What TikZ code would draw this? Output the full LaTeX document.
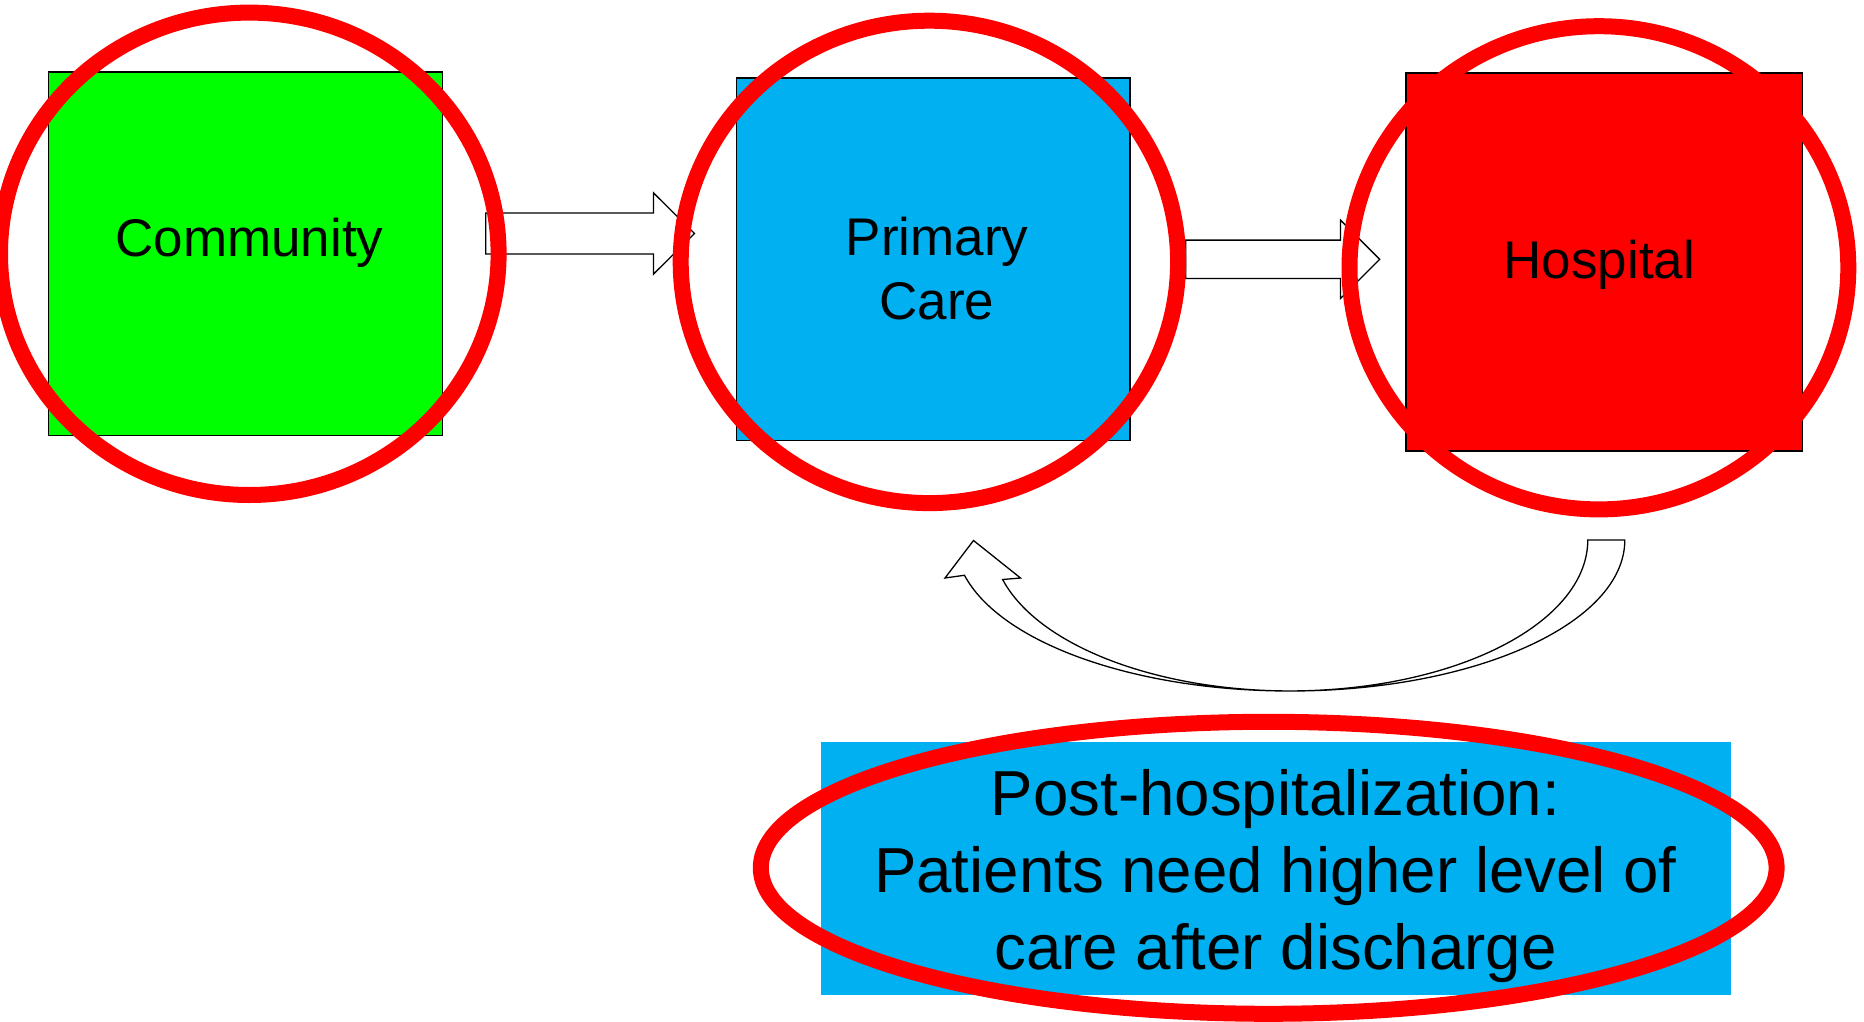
\documentclass[tikz,border=0pt]{standalone}
\usepackage{fontspec}
\setmainfont{Liberation Sans}
\usetikzlibrary{shapes.geometric}

\definecolor{commgreen}{RGB}{0,255,0}
\definecolor{careblue}{RGB}{0,176,240}
\definecolor{hospred}{RGB}{255,0,0}

\begin{document}
\begin{tikzpicture}
   [x=1pt,y=-1pt,
    box/.style={draw=black, line width=1.2pt, inner sep=0pt},
    ring/.style={draw=hospred, line width=16pt, ellipse, inner sep=0pt},
    hollow/.style={draw=black, line width=1.3pt, fill=white},
    lbl/.style={font=\fontsize{53}{64.3}\selectfont, inner sep=0pt, align=center}]
   \useasboundingbox (0,0) rectangle (1864,1022);
   % the three care settings
   \node[box, fill=commgreen, minimum width=393.5pt, minimum height=363.3pt] (comm) at (245.4,253.7) {};
   \node[box, fill=careblue, minimum width=393.3pt, minimum height=362.7pt] (prim) at (933.4,259.4) {};
   \node[box, fill=hospred, minimum width=396.3pt, minimum height=378pt] (hosp) at (1604.2,262) {};
   \node[lbl, anchor=base] (commlbl) at (249.5,256.5) {Community};
   \node[lbl] (primlbl) at (937,268.5) {Primary\\Care};
   \node[lbl, anchor=base] (hosplbl) at (1599.3,278.6) {Hospital};
   % block arrows between them
   \coordinate (tocare) at (485.7,233.5);
   \coordinate (tohosp) at (1185.6,259.3);
   \draw[hollow] (tocare) ++(0,-20.5) -- ++(167.8,0) -- ++(0,-20.1) -- ++(41,40.6)
      -- ++(-41,40.6) -- ++(0,-20.1) -- ++(-167.8,0) -- cycle;
   \draw[hollow] (tohosp) ++(0,-19.2) -- ++(154.9,0) -- ++(0,-20) -- ++(39.2,39.2)
      -- ++(-39.2,39.2) -- ++(0,-20) -- ++(-154.9,0) -- cycle;
   % back from hospital to primary care
   \coordinate (back) at (1624.8,540);
   \draw[hollow] (back) arc[start angle=0, end angle=-166.5, x radius=334.8pt, y radius=151pt]
      -- (945,578) -- (973.5,540.5) -- (1020.5,578) -- (1002.6,579.5)
      arc[start angle=-164.8, end angle=0, x radius=297.8pt, y radius=151pt] -- cycle;
   \node[ring, minimum width=498.6pt, minimum height=482.4pt] (ringcomm) at (249.3,253.8) {};
   \node[ring, minimum width=497.4pt, minimum height=482.4pt] (ringprim) at (929.4,261.9) {};
   \node[ring, minimum width=498.8pt, minimum height=483.2pt] (ringhosp) at (1598.9,267.8) {};
   % the note below
   \node[fill=careblue, inner sep=0pt, minimum width=909.7pt, minimum height=252.7pt] (post) at (1275.9,868.3) {};
   \node[ring, minimum width=1015.8pt, minimum height=292pt] (ringpost) at (1268.7,867.8) {};
   \node[lbl, font=\fontsize{63.6}{76.7}\selectfont] (postlbl) at (1275.5,876) {Post-hospitalization:\\Patients need higher level of\\care after discharge};
\end{tikzpicture}
\end{document}
